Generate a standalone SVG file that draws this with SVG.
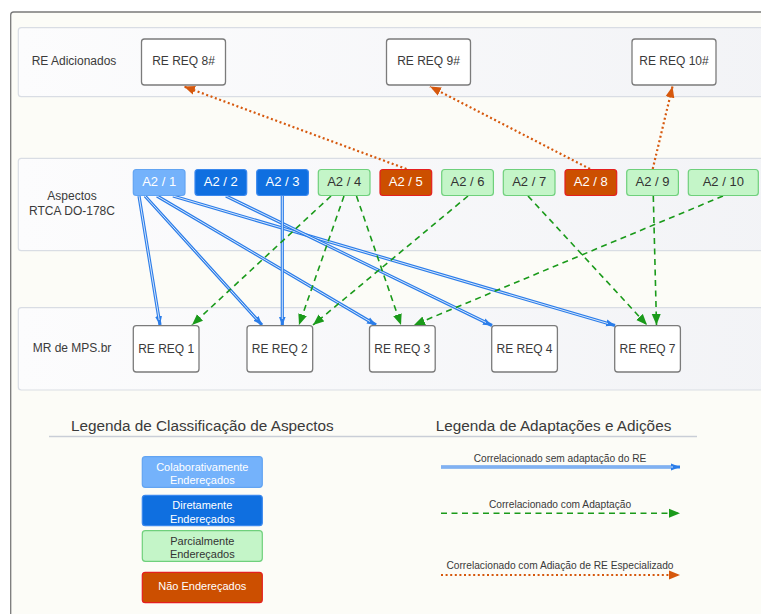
<svg xmlns="http://www.w3.org/2000/svg" width="761" height="614" viewBox="0 0 761 614">
<style>
text{font-family:"Liberation Sans",Arial,sans-serif;fill:#3a3a3a;text-anchor:middle}
.lane{fill:url(#lg);stroke:#d9dde4;stroke-width:1.2}
.req rect{fill:#fff;stroke:#7b7b7b;stroke-width:1.3}
.req text{font-size:12px}
.asp text{font-size:13px}
.lc rect{fill:#74b2fb;stroke:#62a4f2;stroke-width:1.2}
.ld rect{fill:#0f6fe0;stroke:#3a88ee;stroke-width:1.2}
.pg rect{fill:#c4f5c8;stroke:#6fd07c;stroke-width:1.2}
.nr rect{fill:#cc4f00;stroke:#e51f1f;stroke-width:1.2}
.lc text,.ld text,.nr text{fill:#fff}
.pg text{fill:#333}
.lab{font-size:12px}
text.head{font-size:15.3px}
.leg text{font-size:11px}
.lt{font-size:10.2px}
.bo{fill:none;stroke:#2b7de9;stroke-width:3.2}
.bi{fill:none;stroke:#d6e6fc;stroke-width:1}
.g{fill:none;stroke:#1a9a1a;stroke-width:1.6;stroke-dasharray:6 4.5}
.o{fill:none;stroke:#d6580d;stroke-width:2.2;stroke-dasharray:2 2.6}
</style>
<defs>
<linearGradient id="lg" x1="0" y1="0" x2="1" y2="0">
<stop offset="0" stop-color="#fcfcfd"/>
<stop offset="1" stop-color="#f2f3f6"/>
</linearGradient>
<marker id="ab" markerUnits="userSpaceOnUse" markerWidth="10" markerHeight="8" refX="9" refY="4" orient="auto">
<path d="M0,0.5 L9,4 L0,7.5 Z" fill="#2b7de9"/>
</marker>
<marker id="ag" markerUnits="userSpaceOnUse" markerWidth="12" markerHeight="10" refX="11" refY="5" orient="auto">
<path d="M0,0.5 L11,5 L0,9.5 Z" fill="#1a9a1a"/>
</marker>
<marker id="ao" markerUnits="userSpaceOnUse" markerWidth="12" markerHeight="10" refX="11" refY="5" orient="auto">
<path d="M0,0.5 L11,5 L0,9.5 Z" fill="#d6580d"/>
</marker>
</defs>
<rect x="10.7" y="12" width="780" height="640" rx="3" fill="#fcfcf7" stroke="#7a7a7a" stroke-width="1.3"/>
<g id="lanes">
<rect class="lane" x="18.3" y="27.7" width="780" height="69" rx="3"/>
<rect class="lane" x="18.3" y="158.3" width="780" height="92.4" rx="3"/>
<rect class="lane" x="18.3" y="307.7" width="780" height="82.3" rx="3"/>
<text class="lab" x="74" y="65">RE Adicionados</text>
<text class="lab" x="72" y="200">Aspectos</text>
<text class="lab" x="72" y="215">RTCA DO-178C</text>
<text class="lab" x="72" y="352">MR de MPS.br</text>
</g>
<g id="connectors">
<path class="bo" d="M139,196 L160,325" marker-end="url(#ab)"/>
<path class="bi" d="M139,196 L159.2,320"/>
<path class="bo" d="M145,196 L262,325" marker-end="url(#ab)"/>
<path class="bi" d="M145,196 L257,319.5"/>
<path class="bo" d="M157,196 L376,325" marker-end="url(#ab)"/>
<path class="bi" d="M157,196 L370,321.5"/>
<path class="bo" d="M173,196 L615,325.5" marker-end="url(#ab)"/>
<path class="bi" d="M173,196 L608,323.5"/>
<path class="bo" d="M226,196 L492,325.5" marker-end="url(#ab)"/>
<path class="bi" d="M226,196 L486,322.5"/>
<path class="bo" d="M282.3,196 L282.3,325.5" marker-end="url(#ab)"/>
<path class="bi" d="M282.3,196 L282.3,319"/>
<path class="g" d="M331,196 L192,325" marker-end="url(#ag)"/>
<path class="g" d="M344,196 L299,325" marker-end="url(#ag)"/>
<path class="g" d="M356.5,196 L401,325" marker-end="url(#ag)"/>
<path class="g" d="M468,196 L313,325" marker-end="url(#ag)"/>
<path class="g" d="M528,196 L647,325" marker-end="url(#ag)"/>
<path class="g" d="M653.3,196 L656.5,325" marker-end="url(#ag)"/>
<path class="g" d="M723,196 L414,325" marker-end="url(#ag)"/>
<path class="o" d="M406.5,169 L184,86.5" marker-end="url(#ao)"/>
<path class="o" d="M590,169 L430,86.5" marker-end="url(#ao)"/>
<path class="o" d="M652.7,169 L672.5,86.5" marker-end="url(#ao)"/>
</g>
<g id="req8" class="req"><rect x="141.5" y="39" width="84" height="46" rx="3"/><text x="183.5" y="65">RE REQ 8#</text></g>
<g id="req9" class="req"><rect x="386.5" y="39" width="84" height="46" rx="3"/><text x="428.5" y="65">RE REQ 9#</text></g>
<g id="req10" class="req"><rect x="632" y="39" width="84" height="46" rx="3"/><text x="674" y="65">RE REQ 10#</text></g>
<g id="a1" class="asp lc"><rect x="133.3" y="169.5" width="51.7" height="26" rx="3"/><text x="159.2" y="186">A2 / 1</text></g>
<g id="a2" class="asp ld"><rect x="195" y="169.5" width="51.7" height="26" rx="3"/><text x="220.8" y="186">A2 / 2</text></g>
<g id="a3" class="asp ld"><rect x="256.7" y="169.5" width="51.7" height="26" rx="3"/><text x="282.5" y="186">A2 / 3</text></g>
<g id="a4" class="asp pg"><rect x="318.3" y="169.5" width="51.7" height="26" rx="3"/><text x="344.2" y="186">A2 / 4</text></g>
<g id="a5" class="asp nr"><rect x="380" y="169.5" width="51.7" height="26" rx="3"/><text x="405.8" y="186">A2 / 5</text></g>
<g id="a6" class="asp pg"><rect x="441.7" y="169.5" width="51.7" height="26" rx="3"/><text x="467.5" y="186">A2 / 6</text></g>
<g id="a7" class="asp pg"><rect x="503.3" y="169.5" width="51.7" height="26" rx="3"/><text x="529.2" y="186">A2 / 7</text></g>
<g id="a8" class="asp nr"><rect x="565" y="169.5" width="51.7" height="26" rx="3"/><text x="590.8" y="186">A2 / 8</text></g>
<g id="a9" class="asp pg"><rect x="626.7" y="169.5" width="51.7" height="26" rx="3"/><text x="652.5" y="186">A2 / 9</text></g>
<g id="a10" class="asp pg"><rect x="688.3" y="169.5" width="70" height="26" rx="3"/><text x="723.3" y="186">A2 / 10</text></g>
<g id="req1" class="req"><rect x="133.3" y="325.7" width="65.7" height="46.3" rx="3"/><text x="166.2" y="353">RE REQ 1</text></g>
<g id="req2" class="req"><rect x="247" y="325.7" width="65.7" height="46.3" rx="3"/><text x="279.8" y="353">RE REQ 2</text></g>
<g id="req3" class="req"><rect x="369.5" y="325.7" width="65.7" height="46.3" rx="3"/><text x="402.3" y="353">RE REQ 3</text></g>
<g id="req4" class="req"><rect x="491.7" y="325.7" width="65.7" height="46.3" rx="3"/><text x="524.5" y="353">RE REQ 4</text></g>
<g id="req7" class="req"><rect x="614.7" y="325.7" width="65.7" height="46.3" rx="3"/><text x="647.5" y="353">RE REQ 7</text></g>
<g id="legend1">
<text class="head" x="202.3" y="431">Legenda de Classificação de Aspectos</text>
<line x1="49" y1="436.5" x2="697" y2="436.5" stroke="#c9ced7" stroke-width="1.5"/>
<g class="leg lc"><rect x="142.3" y="456.7" width="120" height="30.6" rx="3"/><text x="202.3" y="470.5">Colaborativamente</text><text x="202.3" y="484">Endereçados</text></g>
<g class="leg ld"><rect x="142.3" y="495.3" width="120" height="30.4" rx="3"/><text x="202.3" y="509">Diretamente</text><text x="202.3" y="522.5">Endereçados</text></g>
<g class="leg pg"><rect x="142.3" y="530.7" width="120" height="30.6" rx="3"/><text x="202.3" y="544.5">Parcialmente</text><text x="202.3" y="558">Endereçados</text></g>
<g class="leg nr"><rect x="142.3" y="572.3" width="120" height="30.4" rx="3"/><text x="202.3" y="590">Não Endereçados</text></g>
</g>
<g id="legend2">
<text class="head" x="553.5" y="431">Legenda de Adaptações e Adições</text>
<text class="lt" x="560" y="461.5">Correlacionado sem adaptação do RE</text>
<path class="bo" d="M441,467 L680,467" marker-end="url(#ab)"/>
<path class="bi" d="M441,467 L673,467"/>
<text class="lt" x="560" y="507.5">Correlacionado com Adaptação</text>
<path class="g" d="M441,513.3 L680,513.3" marker-end="url(#ag)"/>
<text class="lt" x="560" y="568.5">Correlacionado com Adiação de RE Especializado</text>
<path class="o" d="M441,575 L680,575" marker-end="url(#ao)"/>
</g>
</svg>
